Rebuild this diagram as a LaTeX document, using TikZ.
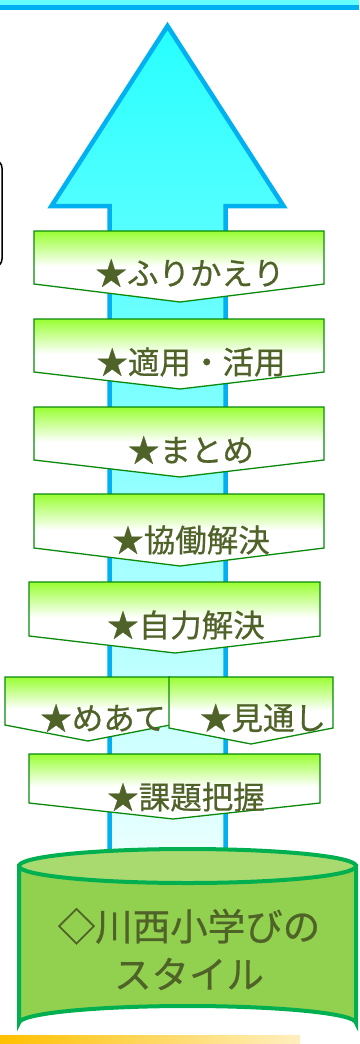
\documentclass[tikz,border=0pt]{standalone}
\usepackage{fontspec}
\newfontfamily\jpfont[FakeBold=0.6]{Noto Sans CJK JP}
\definecolor{arrowblue}{HTML}{00B0F0}
\definecolor{toplight}{HTML}{66FFFF}
\definecolor{chevgreen}{HTML}{0A8A0A}
\definecolor{chevtop}{HTML}{99FF33}
\definecolor{txtolive}{HTML}{4F6228}
\definecolor{cylfill}{HTML}{92D050}
\definecolor{cyltop}{HTML}{A8DA70}
\definecolor{cylline}{HTML}{00B050}
\definecolor{orangeline}{HTML}{FFC000}
\tikzset{
  chevbox/.style={draw=chevgreen, line width=1.3pt, line join=miter, top color=chevtop, bottom color=white, middle color=white},
  chevtext/.style={font=\jpfont\fontsize{31.5}{34}\selectfont, text=txtolive, inner sep=0pt, anchor=center},
  cyltext/.style={font=\jpfont\fontsize{37.5}{48}\selectfont, text=txtolive, inner sep=0pt, align=center, anchor=center},
}
\begin{document}
\begin{tikzpicture}[x=1pt,y=-1pt]
\useasboundingbox (0,0) rectangle (359,1044);
% top band
\fill[toplight] (0,0) rectangle (359,5);
\fill[arrowblue] (0,5) rectangle (359,10);
% bottom orange band
\shade[left color=orangeline, right color=orangeline!25] (0,1035) rectangle (300,1043);
% left box (cut off)
\draw[black, line width=1.5pt, rounded corners=8pt] (-100,160) rectangle (2,267);
% big arrow
\shade[draw=arrowblue, line width=4.5pt, line join=miter, top color=cyan!85!white, bottom color=cyan!6!white]
  (167.5,26) coordinate (tip) -- (283.5,206) -- (225.5,206) -- (225.5,880) -- (109.5,880) -- (109.5,206) -- (51.5,206) -- cycle;
% chevron boxes
\draw[chevbox] (34,231) -- (324,231) -- (324,284) -- (180,302) -- (34,284) -- cycle;
\node[chevtext] (t1) at (190,273) {★ふりかえり};
\draw[chevbox] (34,319) -- (324,319) -- (324,372) -- (180,389) -- (34,372) -- cycle;
\node[chevtext] (t2) at (191,362) {★適用・活用};
\draw[chevbox] (34,407) -- (324,407) -- (324,460) -- (180,477) -- (34,460) -- cycle;
\node[chevtext] (t3) at (191,450) {★まとめ};
\draw[chevbox] (34,494) -- (324,494) -- (324,548) -- (180,566) -- (34,548) -- cycle;
\node[chevtext] (t4) at (191,540) {★協働解決};
\draw[chevbox] (29,582) -- (320,582) -- (320,636) -- (175,653) -- (29,636) -- cycle;
\node[chevtext] (t5) at (186,625) {★自力解決};
\draw[chevbox] (5,677) -- (170,677) -- (170,725) -- (88,741) -- (5,725) -- cycle;
\node[chevtext] (t6a) at (103,718) {★めあて};
\draw[chevbox] (169,677) -- (333,677) -- (333,728) -- (251,744) -- (169,728) -- cycle;
\node[chevtext] (t6b) at (263,718) {★見通し};
\draw[chevbox] (29,754) -- (320,754) -- (320,803) -- (173,819) -- (29,803) -- cycle;
\node[chevtext] (t7) at (186,797) {★課題把握};
% cylinder
\draw[cylline, line width=4pt, fill=cylfill] (19,866) -- (19,1023) arc[start angle=180, end angle=360, x radius=168.5, y radius=17] -- (356,866) -- cycle;
\draw[cylline, line width=4pt, fill=cyltop] (187.5,866) ellipse[x radius=168.5, y radius=17];
\node[cyltext] (cyl) at (189,949) {◇川西小学びの\\スタイル};
\end{tikzpicture}
\end{document}
